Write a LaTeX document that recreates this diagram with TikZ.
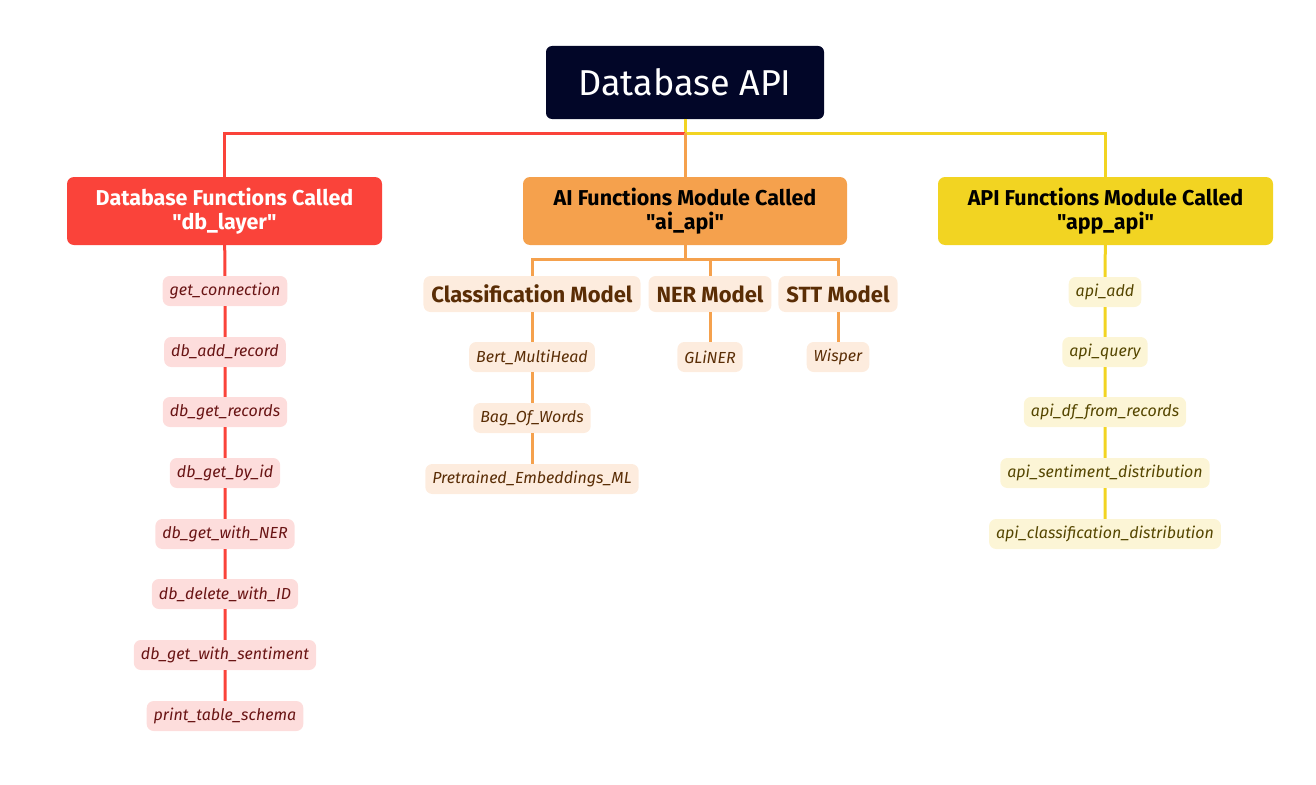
\documentclass[tikz,border=0pt]{standalone}
\usepackage{fontspec}
\setmainfont{Fira Sans}[Ligatures=TeXOff]
\definecolor{rootc}{RGB}{2,6,40}
\definecolor{cred}{RGB}{250,67,58}
\definecolor{corg}{RGB}{245,161,77}
\definecolor{cyel}{RGB}{242,212,34}
\definecolor{cpink}{RGB}{253,221,220}
\definecolor{tred}{RGB}{105,20,20}
\definecolor{cpeach}{RGB}{253,236,222}
\definecolor{tbrown}{RGB}{90,45,5}
\definecolor{ccream}{RGB}{252,245,214}
\definecolor{tolive}{RGB}{85,70,0}
\tikzset{
  rootbox/.style={fill=rootc, rounded corners=6pt, text=white, minimum width=278pt, minimum height=73pt, font=\fontsize{36}{40}\selectfont},
  lone/.style={rounded corners=7pt, minimum height=68pt, align=center, font=\fontsize{21.5}{24}\selectfont\bfseries},
  pill/.style={rounded corners=7pt, minimum height=30pt, inner xsep=7pt, font=\fontsize{16}{18}\selectfont\itshape},
  redpill/.style={pill, fill=cpink, text=tred},
  orgpill/.style={pill, fill=cpeach, text=tbrown},
  yelpill/.style={pill, fill=ccream, text=tolive},
  modbox/.style={rounded corners=7pt, fill=cpeach, text=tbrown, minimum height=36pt, inner xsep=8pt, font=\fontsize{22}{26}\selectfont\bfseries},
  redl/.style={draw=cred, line width=3pt},
  orgl/.style={draw=corg, line width=3pt},
  yell/.style={draw=cyel, line width=3pt}
}
\begin{document}
\begin{tikzpicture}[x=1pt,y=-1pt]
\useasboundingbox (0,0) rectangle (1316,784);
\coordinate (bar) at (685,133);
\coordinate (obar) at (685,259);
\node[rootbox] (root) at (685,82.5) {Database API};
\node[lone, fill=cred, text=white, minimum width=315pt] (db) at (224.5,211) {Database Functions Called\\"db\_layer"};
\node[lone, fill=corg, text=black, minimum width=324pt] (ai) at (685,211) {AI Functions Module Called\\"ai\_api"};
\node[lone, fill=cyel, text=black, minimum width=335pt] (app) at (1105.5,211) {API Functions Module Called\\"app\_api"};
% db children
\node[redpill] (r1) at (225,291) {get\_connection};
\node[redpill] (r2) at (225,352) {db\_add\_record};
\node[redpill] (r3) at (225,412) {db\_get\_records};
\node[redpill] (r4) at (225,473) {db\_get\_by\_id};
\node[redpill] (r5) at (225,534) {db\_get\_with\_NER};
\node[redpill] (r6) at (225,594) {db\_delete\_with\_ID};
\node[redpill] (r7) at (225,655) {db\_get\_with\_sentiment};
\node[redpill] (r8) at (225,716) {print\_table\_schema};
% ai children
\node[modbox] (cls) at (532,294) {Classification Model};
\node[modbox] (ner) at (710,294) {NER Model};
\node[modbox] (stt) at (838,294) {STT Model};
\node[orgpill] (o1) at (532,357) {Bert\_MultiHead};
\node[orgpill] (o2) at (532,418) {Bag\_Of\_Words};
\node[orgpill] (o3) at (532,479) {Pretrained\_Embeddings\_ML};
\node[orgpill] (n1) at (710,357) {GLiNER};
\node[orgpill] (s1) at (838,357) {Wisper};
% app children
\node[yelpill] (y1) at (1105,292) {api\_add};
\node[yelpill] (y2) at (1105,352) {api\_query};
\node[yelpill] (y3) at (1105,412) {api\_df\_from\_records};
\node[yelpill] (y4) at (1105,473) {api\_sentiment\_distribution};
\node[yelpill] (y5) at (1105,534) {api\_classification\_distribution};
% connectors
\draw[yell] (root) -- (bar);
\draw[redl] (bar) -| (db);
\draw[yell] (bar) -| (app);
\draw[orgl] (bar) -- (ai);
\draw[redl] (db) -- (r1) -- (r2) -- (r3) -- (r4) -- (r5) -- (r6) -- (r7) -- (r8);
\draw[orgl] (ai) -- (obar);
\draw[orgl] (obar) -| (cls);
\draw[orgl] (obar) -| (ner);
\draw[orgl] (obar) -| (stt);
\draw[orgl] (cls) -- (o1) -- (o2) -- (o3);
\draw[orgl] (ner) -- (n1);
\draw[orgl] (stt) -- (s1);
\draw[yell] (app) -- (y1) -- (y2) -- (y3) -- (y4) -- (y5);
\end{tikzpicture}
\end{document}
